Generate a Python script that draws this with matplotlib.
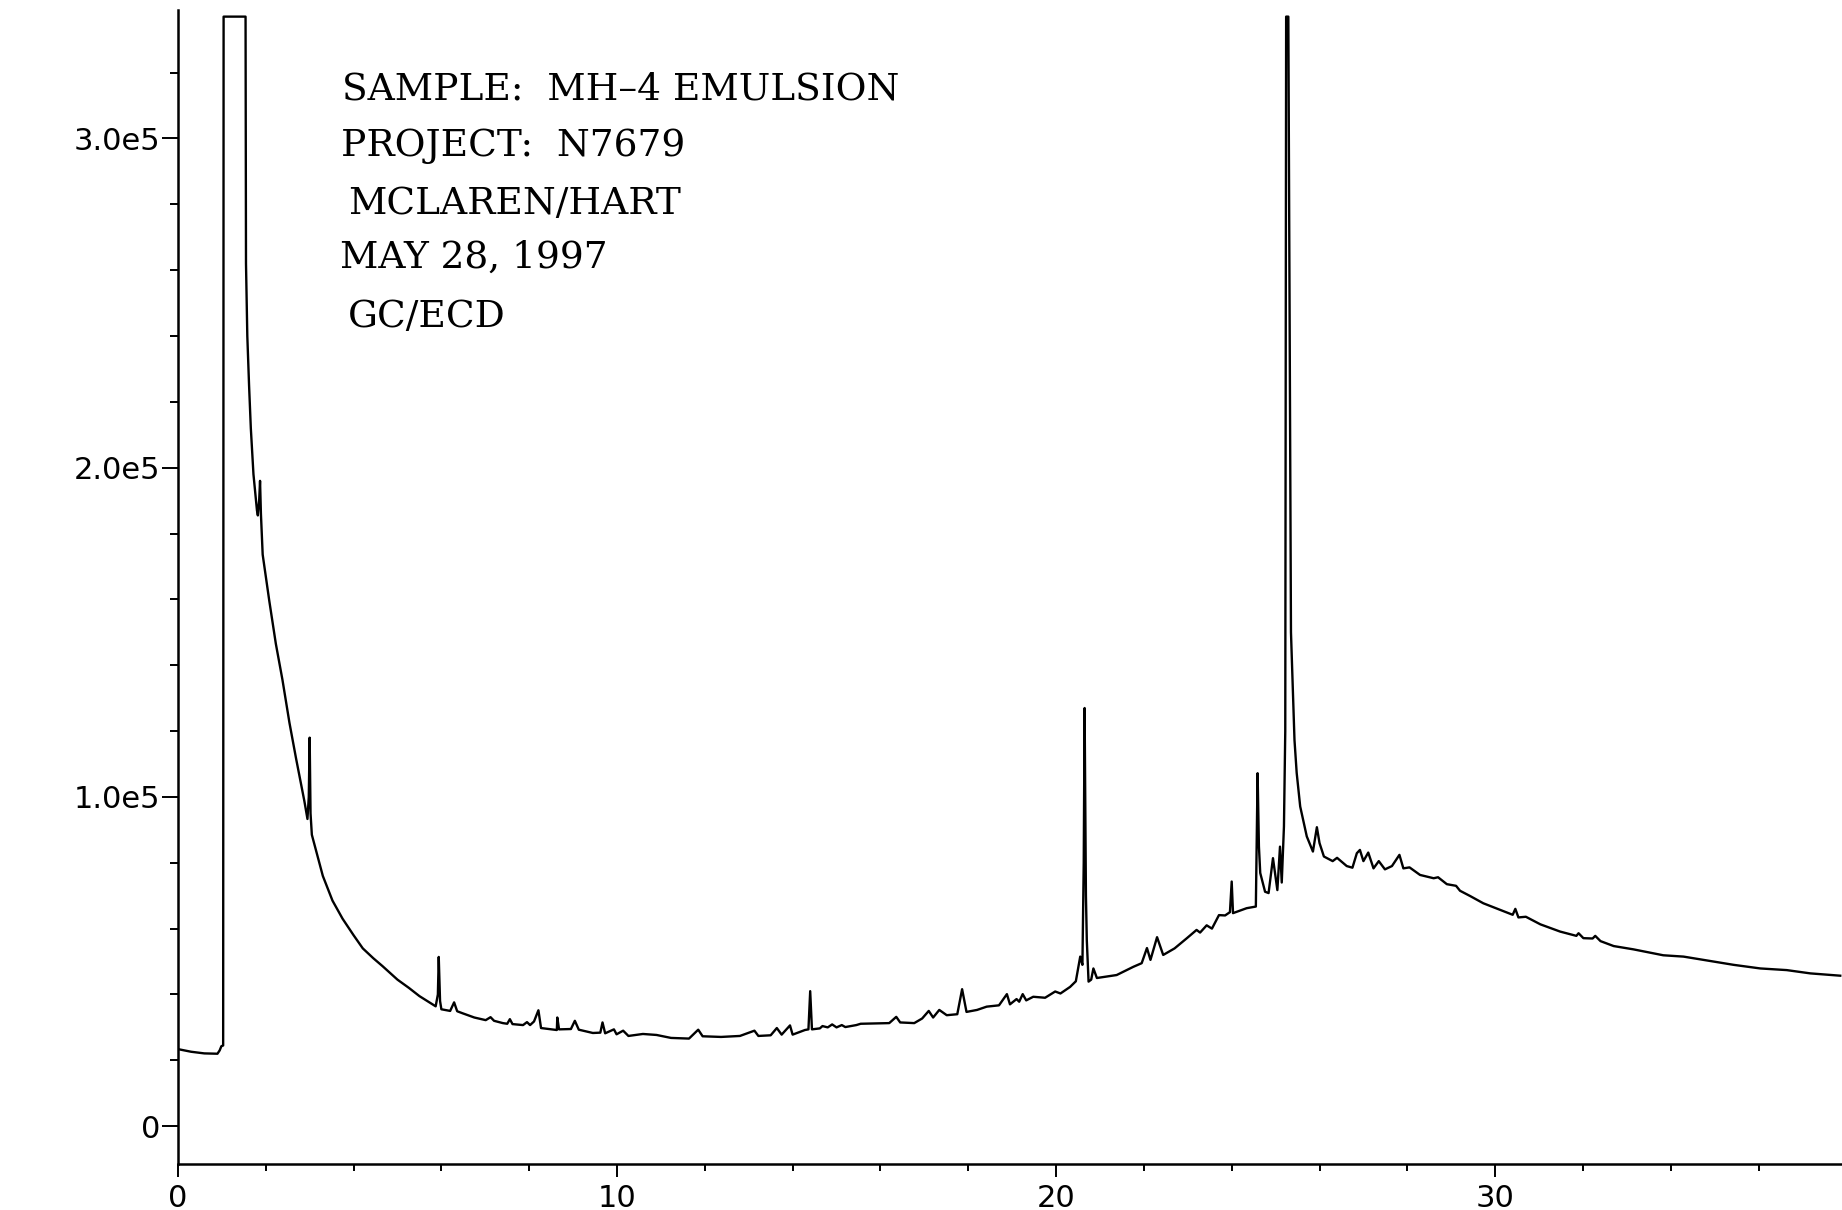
#!/usr/bin/env python

import matplotlib
matplotlib.use("Agg")
import matplotlib.pyplot as plt
from matplotlib.ticker import MultipleLocator, FixedLocator

# retention time (min) and detector response
rt = [0.00, 0.30, 0.60, 0.90, 0.95, 0.99, 1.03,
      1.04, 1.54, 1.55, 1.58, 1.62, 1.66, 1.72, 1.80, 1.82, 1.85, 1.87, 1.89,
      1.93, 2.08, 2.23, 2.38, 2.54, 2.69, 2.88, 2.95, 2.98, 3.00, 3.02, 3.05,
      3.30, 3.52, 3.75, 4.00, 4.21, 4.45, 4.66, 5.00, 5.26, 5.50, 5.87, 5.92,
      5.94, 5.97, 6.00, 6.20, 6.29, 6.36, 6.48, 6.75, 7.01, 7.12, 7.20, 7.40,
      7.50, 7.56, 7.62, 7.86, 7.95, 8.02, 8.11, 8.21, 8.27, 8.50, 8.63, 8.64,
      8.68, 8.95, 9.04, 9.13, 9.45, 9.62, 9.67, 9.73, 9.93, 9.99, 10.14, 10.26,
      10.59, 10.90, 11.23, 11.64, 11.85, 11.95, 12.37, 12.80, 13.13, 13.22,
      13.50, 13.64, 13.75, 13.94, 14.00, 14.28, 14.36, 14.40, 14.44, 14.62,
      14.68, 14.80, 14.90, 15.00, 15.12, 15.20, 15.45, 15.55, 15.85, 16.20,
      16.36, 16.45, 16.77, 16.95, 17.10, 17.20, 17.34, 17.51, 17.75, 17.86,
      17.96, 18.20, 18.42, 18.70, 18.88, 18.95, 19.10, 19.16, 19.24, 19.32,
      19.48, 19.75, 19.98, 20.10, 20.32, 20.45, 20.55, 20.60, 20.63, 20.65,
      20.68, 20.70, 20.74, 20.80, 20.85, 20.93, 21.38, 21.76, 21.95, 22.07,
      22.15, 22.30, 22.44, 22.70, 22.98, 23.20, 23.28, 23.43, 23.55, 23.71,
      23.85, 23.96, 24.00, 24.03, 24.34, 24.55, 24.59, 24.62, 24.65, 24.76,
      24.84, 24.94, 25.04, 25.10, 25.14, 25.19, 25.22, 25.24, 25.29, 25.35,
      25.43, 25.48, 25.56, 25.71, 25.85, 25.94, 26.00, 26.10, 26.30, 26.40,
      26.62, 26.75, 26.85, 26.92, 27.00, 27.11, 27.23, 27.35, 27.49, 27.65,
      27.82, 27.91, 28.05, 28.29, 28.60, 28.70, 28.90, 29.11, 29.20, 29.43,
      29.73, 30.11, 30.40, 30.46, 30.53, 30.70, 31.03, 31.48, 31.85, 31.90,
      32.01, 32.22, 32.28, 32.40, 32.70, 33.15, 33.83, 34.29, 34.75, 35.43,
      36.04, 36.64, 37.18, 37.86]

response = [23400, 22600, 22100, 22000, 23000, 24300, 24500,
            337000, 337000, 262000, 240000, 225000, 212000, 198000, 187000, 185500, 190000, 196000, 186000,
            173600, 159600, 146500, 135600, 122500, 111700, 98700, 93300, 100000, 118000, 95000, 88500,
            76000, 68500, 63000, 58000, 54000, 51000, 48600, 44500, 42000, 39500, 36400, 40000,
            51400, 38000, 35500, 35000, 37600, 34900, 34300, 33000, 32200, 33100, 32000, 31300,
            31100, 32500, 31000, 30700, 31600, 30700, 31800, 35200, 29800, 29400, 29200, 33000,
            29400, 29500, 32000, 29300, 28300, 28400, 31500, 28200, 29400, 27900, 29000, 27400,
            28000, 27700, 26800, 26600, 29300, 27300, 27100, 27400, 29000, 27400,
            27600, 29800, 27800, 30600, 27800, 29200, 29400, 41000, 29400, 29700,
            30400, 30000, 30900, 30000, 30700, 30100, 30700, 31100, 31200, 31300,
            33200, 31500, 31300, 32700, 35000, 33000, 35300, 33700, 34000, 41600,
            34700, 35300, 36300, 36700, 40100, 37000, 38600, 37800, 40100, 38200,
            39300, 39000, 40900, 40300, 42300, 44000, 51500, 49000, 80000, 127000,
            70000, 56500, 43900, 44500, 47900, 45000, 45900, 48400, 49500, 54100,
            50500, 57400, 52000, 54000, 57100, 59600, 58800, 61000, 60000, 64100,
            64000, 65000, 74300, 64700, 66200, 66700, 107200, 85000, 76900, 71200,
            70800, 81400, 71700, 84900, 74000, 91000, 120000, 337000, 337000, 150000,
            117300, 107300, 97100, 88000, 83400, 90800, 86000, 81900, 80500, 81500,
            79000, 78500, 82900, 83900, 80500, 83100, 78300, 80500, 78000, 79000,
            82400, 78300, 78600, 76300, 75300, 75600, 73500, 73000, 71500, 69900,
            67700, 65700, 64200, 66000, 63400, 63600, 61300, 59100, 57800, 58600,
            57100, 57000, 57800, 56200, 54700, 53700, 51900, 51500, 50500, 49000,
            47900, 47400, 46400, 45700]

y_ticks = [0, 100000, 200000, 300000]
y_tick_labels = ["0", "1.0e5", "2.0e5", "3.0e5"]
x_ticks = [0, 10, 20, 30]
x_tick_labels = ["0", "10", "20", "30"]

header = ["SAMPLE:  MH\u20134 EMULSION",
          "PROJECT:  N7679",
          "MCLAREN/HART",
          "MAY 28, 1997",
          "GC/ECD"]

fig = plt.figure(figsize=(18.42, 12.10), dpi=100)
ax = fig.add_axes([0.0966, 0.038, 0.9034, 0.9537])

ax.plot(rt, response, color="black", linewidth=1.7)

ax.set_xlim(0, 37.9)
ax.set_ylim(-11500, 339000)

# plotter style axes: only left and bottom
for side in ("top", "right"):
    ax.spines[side].set_visible(False)
for side in ("left", "bottom"):
    ax.spines[side].set_linewidth(1.8)

ax.yaxis.set_major_locator(FixedLocator(y_ticks))
ax.set_yticklabels(y_tick_labels)
ax.yaxis.set_minor_locator(MultipleLocator(20000))
ax.xaxis.set_major_locator(FixedLocator(x_ticks))
ax.set_xticklabels(x_tick_labels)
ax.xaxis.set_minor_locator(MultipleLocator(2))

ax.tick_params(axis="y", which="major", length=11.5, width=1.4, pad=1, labelsize=22)
ax.tick_params(axis="y", which="minor", length=5.8, width=1.4)
ax.tick_params(axis="x", which="major", length=9.4, width=1.4, pad=5, labelsize=22)
ax.tick_params(axis="x", which="minor", length=5, width=1.4)
for lab in ax.get_xticklabels() + ax.get_yticklabels():
    lab.set_family("DejaVu Sans")

# header block printed on the chromatogram
line_x = [342, 341, 348, 340, 348]
line_y = [89, 146, 204, 258, 317]
for txt, px, py in zip(header, line_x, line_y):
    fig.text(px / 1842, 1 - py / 1210, txt, ha="left", va="center",
             fontsize=27, family="DejaVu Serif")

plt.savefig("out.png", dpi=100)
